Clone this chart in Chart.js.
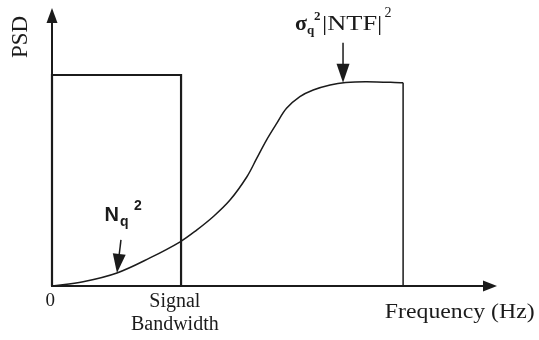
<!DOCTYPE html>
<html>
<head>
<meta charset="utf-8">
<script src="https://cdn.jsdelivr.net/npm/chart.js@4.4.1/dist/chart.umd.min.js"></script>
<style>
  html, body { margin: 0; padding: 0; background: #fff; }
  #wrap { width: 539px; height: 340px; }
</style>
</head>
<body>
<div id="wrap"><canvas id="psdChart"></canvas></div>
<script>
// signal band: flat PSD up to the bandwidth edge
const signalFreq = [0, 0, 29, 29];
const signalPsd = [0, 75.9, 75.9, 0];

// shaped quantisation noise sigma_q^2 |NTF|^2
const noiseFreq = [0, 7, 14.6, 22, 28.8, 32.5, 36.2, 40.0, 43.8, 46.0, 48.2, 50.5, 52.7, 55.7, 58.7, 62.5, 66, 70.7, 78.9];
const noisePsd = [0, 1.55, 4.7, 10.1, 15.9, 20.1, 24.9, 30.9, 39.3, 45.9, 52.5, 58.5, 63.9, 68.1, 70.5, 72.3, 73.2, 73.5, 73.1];

// where the pointer arrows touch the noise curve
const nqPoint = [14.6, 4.7];
const ntfPoint = [65.4, 73.1];

const ink = '#1b1b1b';
const serif = '"Liberation Serif", "Times New Roman", serif';
const sans = '"Liberation Sans", Arial, sans-serif';

function pts(xs, ys) {
  return xs.map((x, i) => ({ x: x, y: ys[i] }));
}

const lastF = noiseFreq[noiseFreq.length - 1];
const lastP = noisePsd[noisePsd.length - 1];

function arrowHead(ctx, tx, ty, angle, len, half) {
  ctx.beginPath();
  ctx.moveTo(tx, ty);
  ctx.lineTo(tx - len * Math.cos(angle) + half * Math.sin(angle), ty - len * Math.sin(angle) - half * Math.cos(angle));
  ctx.lineTo(tx - len * Math.cos(angle) - half * Math.sin(angle), ty - len * Math.sin(angle) + half * Math.cos(angle));
  ctx.closePath();
  ctx.fill();
}

function pointer(ctx, x1, y1, x2, y2) {
  const ang = Math.atan2(y2 - y1, x2 - x1);
  ctx.lineWidth = 1.5;
  ctx.beginPath();
  ctx.moveTo(x1, y1);
  ctx.lineTo(x2 - 12 * Math.cos(ang), y2 - 12 * Math.sin(ang));
  ctx.stroke();
  arrowHead(ctx, x2, y2, ang, 19, 6.5);
}

// text with a little horizontal stretch, left aligned at (x, y)
function wideText(ctx, str, x, y, sx) {
  ctx.save();
  ctx.translate(x, y);
  ctx.scale(sx, 1);
  ctx.fillText(str, 0, 0);
  const w = ctx.measureText(str).width * sx;
  ctx.restore();
  return w;
}

const decor = {
  id: 'decor',
  afterDraw(chart) {
    const { ctx, chartArea: a, scales: { x, y } } = chart;
    const px = v => x.getPixelForValue(v);
    const py = v => y.getPixelForValue(v);
    const x0 = px(0), y0 = py(0);
    ctx.save();
    ctx.strokeStyle = ink;
    ctx.fillStyle = ink;

    // axes with arrow heads
    ctx.lineWidth = 2;
    ctx.beginPath();
    ctx.moveTo(x0, y0);
    ctx.lineTo(x0, a.top + 10);
    ctx.moveTo(x0 - 1, y0);
    ctx.lineTo(a.right - 10, y0);
    ctx.stroke();
    arrowHead(ctx, x0, a.top, -Math.PI / 2, 15, 5.5);
    arrowHead(ctx, a.right, y0, 0, 14, 5.5);

    // pointers onto the noise curve
    pointer(ctx, px(nqPoint[0]) + 4, py(nqPoint[1]) - 33, px(nqPoint[0]), py(nqPoint[1]));
    pointer(ctx, px(ntfPoint[0]), py(ntfPoint[1]) - 40, px(ntfPoint[0]), py(ntfPoint[1]));

    // axis labels
    ctx.textBaseline = 'middle';
    ctx.textAlign = 'center';
    ctx.font = '23px ' + serif;
    ctx.save();
    ctx.translate(px(-6.9), py(89.6));
    ctx.rotate(-Math.PI / 2);
    ctx.fillText('PSD', 0, 0);
    ctx.restore();

    ctx.font = '19px ' + serif;
    ctx.fillText('0', px(-0.4), py(-5.4));
    ctx.font = '20px ' + serif;
    ctx.fillText('Signal', px(27.6), py(-5.8));
    ctx.fillText('Bandwidth', px(27.6), py(-13.9));

    ctx.textAlign = 'left';
    ctx.font = '22px ' + serif;
    wideText(ctx, 'Frequency (Hz)', px(74.8), py(-9.4), 1.08);

    // N_q^2
    ctx.textBaseline = 'alphabetic';
    let cx = px(11.8), base = py(23.4);
    ctx.font = 'bold 20px ' + sans;
    ctx.fillText('N', cx, base);
    cx += ctx.measureText('N').width;
    ctx.font = 'bold 14px ' + sans;
    ctx.fillText('q', cx + 1, base + 5);
    ctx.fillText('2', cx + 15, base - 11);

    // sigma_q^2 |NTF|^2
    cx = px(54.6); base = py(92.1);
    ctx.font = 'bold 22px ' + serif;
    cx += wideText(ctx, '\u03c3', cx, base, 1.0);
    ctx.font = 'bold 13px ' + serif;
    ctx.fillText('q', cx, base + 4);
    ctx.fillText('2', cx + 7, base - 10);
    cx += 15;
    ctx.font = '22px ' + serif;
    cx += wideText(ctx, '|NTF|', cx, base, 1.2);
    ctx.font = '14px ' + serif;
    ctx.fillText('2', cx + 2, base - 13);

    ctx.restore();
  }
};

new Chart(document.getElementById('psdChart'), {
  type: 'scatter',
  data: {
    datasets: [
      {
        label: 'Signal',
        data: pts(signalFreq, signalPsd),
        showLine: true,
        borderColor: ink,
        borderWidth: 2.2,
        pointRadius: 0,
        tension: 0,
        clip: false
      },
      {
        label: 'Noise',
        data: pts(noiseFreq, noisePsd),
        showLine: true,
        borderColor: ink,
        borderWidth: 1.5,
        pointRadius: 0,
        tension: 0.35,
        clip: false
      },
      {
        label: 'Noise edge',
        data: [{ x: lastF, y: lastP }, { x: lastF, y: 0 }],
        showLine: true,
        borderColor: ink,
        borderWidth: 1.5,
        pointRadius: 0,
        tension: 0,
        clip: false
      }
    ]
  },
  options: {
    responsive: true,
    maintainAspectRatio: false,
    animation: false,
    layout: { padding: { left: 52, right: 42, top: 8, bottom: 54 } },
    plugins: {
      legend: { display: false },
      tooltip: { enabled: false }
    },
    scales: {
      x: { type: 'linear', min: 0, max: 100, display: false },
      y: { type: 'linear', min: 0, max: 100, display: false }
    }
  },
  plugins: [decor]
});
</script>
</body>
</html>
